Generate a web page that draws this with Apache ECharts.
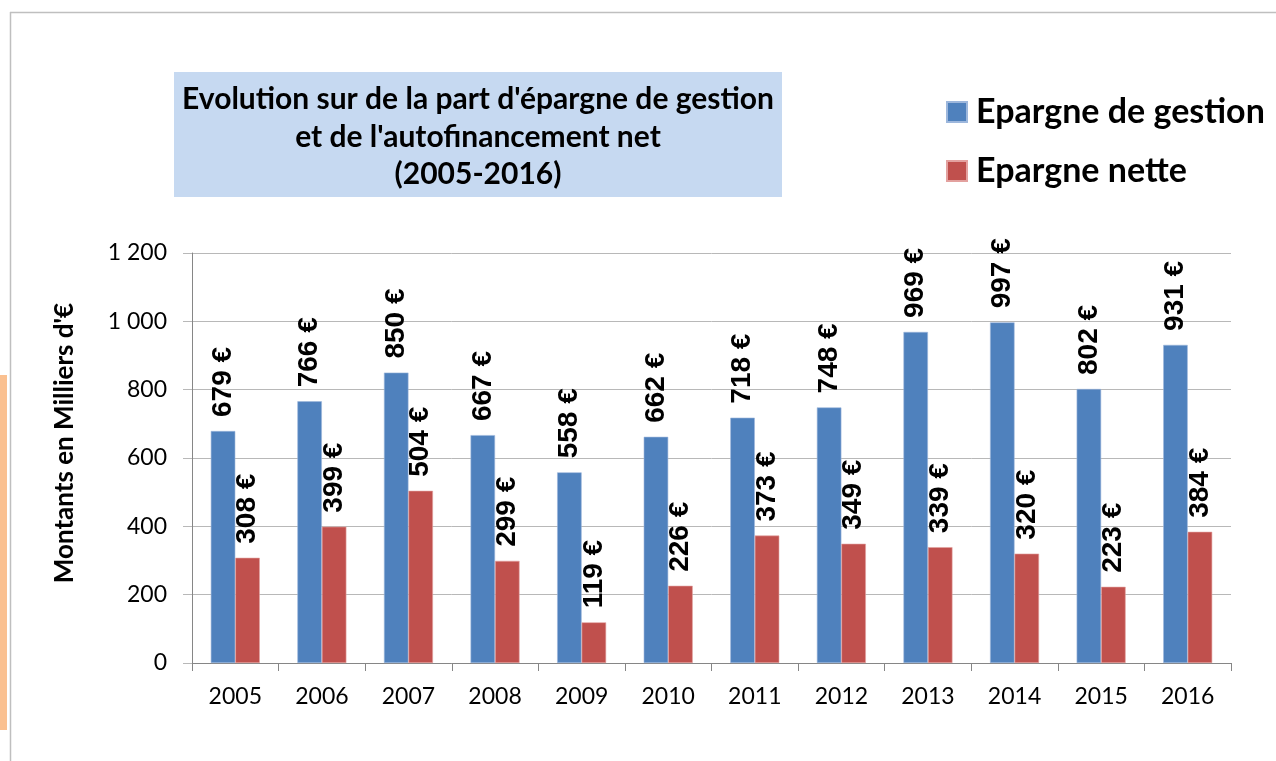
<!DOCTYPE html>
<html>
<head>
<meta charset="utf-8">
<script src="https://cdn.jsdelivr.net/npm/echarts@6/dist/echarts.min.js"></script>
<style>
  html, body { margin: 0; padding: 0; background: #ffffff; }
  #chart { width: 1276px; height: 761px; }
</style>
</head>
<body>
<div id="chart"></div>
<script>
const categories = ['2005','2006','2007','2008','2009','2010','2011','2012','2013','2014','2015','2016'];
const epargneGestion = [679, 766, 850, 667, 558, 662, 718, 748, 969, 997, 802, 931];
const epargneNette = [308, 399, 504, 299, 119, 226, 373, 349, 339, 320, 223, 384];
const seriesNames = ['Epargne de gestion', 'Epargne nette'];
const titleText = "Evolution sur de la part d'épargne de gestion\net de l'autofinancement net\n(2005-2016)";
const yAxisName = "Montants en Milliers d'€";

const chart = echarts.init(document.getElementById('chart'));

const labelStyle = {
  show: true,
  position: 'top',
  rotate: 90,
  align: 'left',
  verticalAlign: 'middle',
  distance: 14,
  fontFamily: '"Liberation Sans", Arial, sans-serif',
  fontWeight: 'bold',
  fontSize: 28,
  color: '#000',
  formatter: p => p.value + ' €'
};

chart.setOption({
  animation: false,
  backgroundColor: '#ffffff',
  graphic: [
    { type: 'rect', z: -10, shape: { x: 0, y: 375, width: 7, height: 355 }, style: { fill: '#FAC090' } },
    { type: 'line', z: -10, shape: { x1: 10.5, y1: 12, x2: 10.5, y2: 761 }, style: { stroke: '#BFBFBF', lineWidth: 1.5 } },
    { type: 'line', z: -10, shape: { x1: 10, y1: 12.5, x2: 1276, y2: 12.5 }, style: { stroke: '#BFBFBF', lineWidth: 1.5 } },
    { type: 'rect', z: -5, shape: { x: 174, y: 72, width: 608, height: 125 }, style: { fill: '#C6D9F1' } },
    { type: 'text', z: 5, x: 478, y: 81, style: {
        text: titleText, textAlign: 'center', textVerticalAlign: 'top',
        fontFamily: 'Lato, "Open Sans", sans-serif', fontWeight: 'bold', fontSize: 30,
        lineHeight: 37.5, fill: '#000'
      } }
  ],
  legend: {
    orient: 'vertical',
    left: 946,
    top: 95,
    padding: 0,
    itemWidth: 20,
    itemHeight: 20,
    itemGap: 25,
    icon: 'rect',
    data: seriesNames,
    textStyle: {
      fontFamily: 'Lato, "Open Sans", sans-serif',
      fontWeight: 'bold',
      fontSize: 34,
      color: '#000',
      padding: [0, 0, 0, 4]
    }
  },
  grid: { left: 192, right: 45, top: 253, bottom: 98 },
  xAxis: {
    type: 'category',
    data: categories,
    axisLine: { lineStyle: { color: '#868686', width: 1 } },
    axisTick: { show: true, length: 8, alignWithLabel: false, lineStyle: { color: '#868686' } },
    axisLabel: { fontFamily: 'Lato, "Open Sans", sans-serif', fontSize: 23, color: '#000', margin: 22 }
  },
  yAxis: {
    type: 'value',
    min: 0, max: 1200, interval: 200,
    name: yAxisName,
    nameLocation: 'middle',
    nameGap: 114,
    nameRotate: 90,
    nameTextStyle: {
      fontFamily: 'Lato, "Open Sans", sans-serif', fontWeight: 'bold', fontSize: 26, color: '#000',
      padding: [0, 0, 0, 30]
    },
    axisLine: { show: true, lineStyle: { color: '#868686', width: 1 } },
    axisTick: { show: true, length: 9, lineStyle: { color: '#B8B8B8' } },
    splitLine: { lineStyle: { color: '#B8B8B8', width: 1 } },
    axisLabel: {
      fontFamily: 'Lato, "Open Sans", sans-serif', fontSize: 23, color: '#000', margin: 25,
      formatter: v => String(v).replace(/\B(?=(\d{3})+(?!\d))/g, ' ')
    }
  },
  series: [
    {
      name: seriesNames[0], type: 'bar', data: epargneGestion,
      barWidth: 24.5, barGap: '0%',
      itemStyle: { color: '#4F81BD', borderColor: '#9DB7DC', borderWidth: 0.6 },
      label: labelStyle
    },
    {
      name: seriesNames[1], type: 'bar', data: epargneNette,
      barWidth: 24.5, barGap: '0%',
      itemStyle: { color: '#C0504D', borderColor: '#E3A19F', borderWidth: 0.6 },
      label: labelStyle
    }
  ]
});
</script>
</body>
</html>
